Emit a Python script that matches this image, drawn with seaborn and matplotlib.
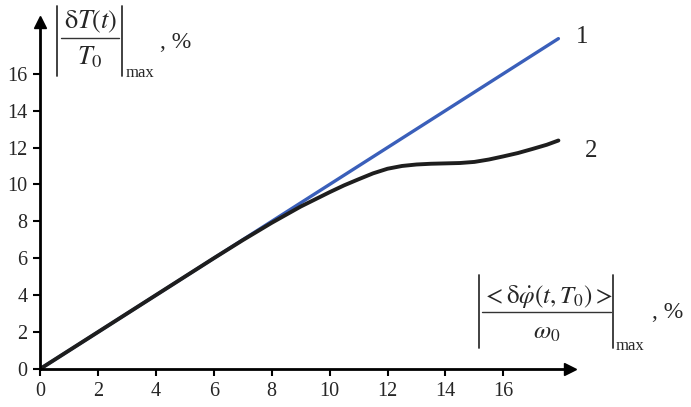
import matplotlib

matplotlib.use("Agg")
import matplotlib.pyplot as plt
import pandas as pd
import seaborn as sns
from matplotlib.lines import Line2D

# line 1: linear response
x_line1 = [0.0, 17.9]
y_line1 = [0.0, 17.9]

# line 2: saturating response
x_line2 = [0, 2, 4, 6, 7, 8, 9, 10, 10.5, 11, 11.5, 12, 12.5, 13, 13.5,
           14, 14.5, 15, 15.5, 16, 16.5, 17, 17.5, 17.9]
y_line2 = [0, 2, 4, 6, 6.98, 7.92, 8.8, 9.58, 9.95, 10.28, 10.6, 10.85,
           11.0, 11.08, 11.12, 11.14, 11.16, 11.22, 11.35, 11.52, 11.7,
           11.92, 12.15, 12.38]

x_ticks = [0, 2, 4, 6, 8, 10, 12, 14, 16]
y_ticks = [0, 2, 4, 6, 8, 10, 12, 14, 16]

W, H = 691, 407

sns.set_style("ticks")
plt.rcParams["font.family"] = ["Liberation Serif", "DejaVu Serif"]
plt.rcParams["mathtext.fontset"] = "stix"

df1 = pd.DataFrame({"x": x_line1, "y": y_line1})
df2 = pd.DataFrame({"x": x_line2, "y": y_line2})

fig = plt.figure(figsize=(W / 100, H / 100), dpi=100)
ax = fig.add_axes([40 / W, 1 - 369 / H, 530 / W, 347 / H])

sns.lineplot(data=df1, x="x", y="y", ax=ax, color="#3a5fba", lw=2.4,
             sort=False, estimator=None)
sns.lineplot(data=df2, x="x", y="y", ax=ax, color="#1e1e1e", lw=2.8,
             sort=False, estimator=None)

ax.set_xlim(0, 18.3)
ax.set_ylim(0, 18.8)
ax.set_xticks(x_ticks)
ax.set_yticks(y_ticks)
ax.tick_params(labelsize=14.5, length=5, width=1.5, color="black", pad=4)
ax.set_xlabel("")
ax.set_ylabel("")

for s in ["top", "right"]:
    ax.spines[s].set_visible(False)
for s in ["left", "bottom"]:
    ax.spines[s].set_linewidth(2)
    ax.spines[s].set_color("black")

# axis arrows
ax.plot(1, 0, marker=">", color="black", markersize=9,
        transform=ax.get_yaxis_transform(), clip_on=False)
ax.plot(0, 1, marker="^", color="black", markersize=9,
        transform=ax.get_xaxis_transform(), clip_on=False)

# curve numbers
ax.text(18.5, 18.0, "1", fontsize=18, ha="left", va="center")
ax.text(18.8, 11.8, "2", fontsize=18, ha="left", va="center")


def px(x, y):
    return x / W, 1 - y / H


def vline(x, y0, y1, lw=1.3):
    fig.add_artist(Line2D([x / W, x / W], [1 - y0 / H, 1 - y1 / H],
                          color="#333333", lw=lw))


def hline(x0, x1, y, lw=1.0):
    fig.add_artist(Line2D([x0 / W, x1 / W], [1 - y / H, 1 - y / H],
                          color="#333333", lw=lw))


# y axis label: |dT(t)/T0|max, %
vline(57, 6, 76)
vline(122, 6, 76)
hline(61, 119, 38)
fig.text(*px(91, 22), r"$\mathrm{\delta}T(t)$", fontsize=19,
         ha="center", va="center")
fig.text(*px(90, 57), r"$T_0$", fontsize=19, ha="center", va="center")
fig.text(*px(126, 73), "max", fontsize=12, ha="left", va="center")
fig.text(*px(160, 42), ", %", fontsize=17, ha="left", va="center")

# x axis label: |<dphi(t,T0)>/w0|max, %
vline(479, 275, 348)
vline(613, 275, 348)
hline(482, 611, 312)
fig.text(*px(547, 296), r"$<\mathrm{\delta}\dot{\varphi}(t,T_0)>$",
         fontsize=18, ha="center", va="center")
fig.text(*px(547, 333), r"$\omega_0$", fontsize=18,
         ha="center", va="center")
fig.text(*px(616, 346), "max", fontsize=12, ha="left", va="center")
fig.text(*px(652, 313), ", %", fontsize=17, ha="left", va="center")

plt.savefig("out.png", dpi=100)
